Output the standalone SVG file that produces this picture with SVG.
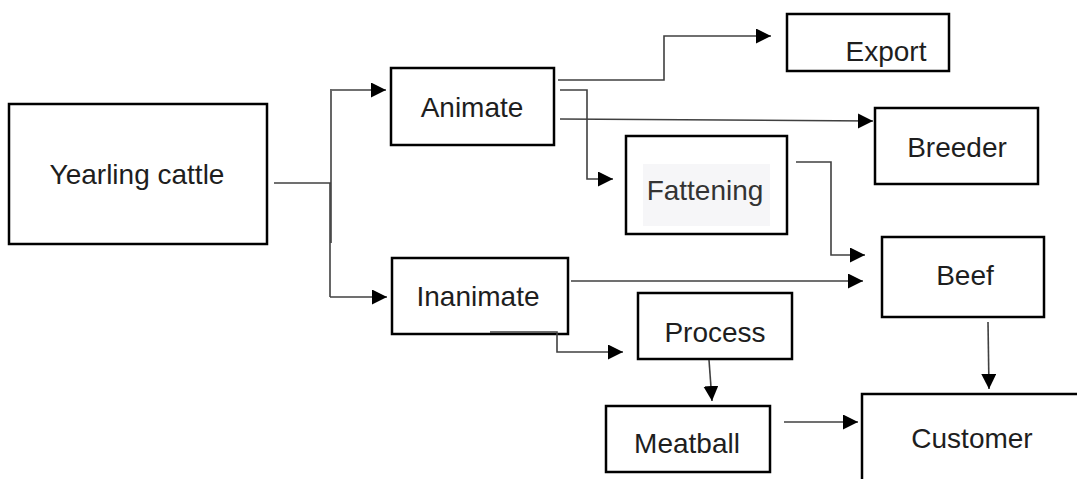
<svg xmlns="http://www.w3.org/2000/svg" width="1077" height="479" viewBox="0 0 1077 479">
<style>
.box{fill:#fff;stroke:#000;stroke-width:2.5}
.lbl{font-family:"Liberation Sans",Arial,sans-serif;font-size:28px;fill:#1e1e1e;text-anchor:middle}
.ln{fill:none;stroke:#404040;stroke-width:1.6}
</style>
<defs>
<marker id="ah" markerUnits="userSpaceOnUse" markerWidth="16" markerHeight="16" refX="15" refY="7.5" orient="auto">
<path d="M0,0 L15,7.5 L0,15 Z" fill="#000"/>
</marker>
</defs>
<rect width="1077" height="479" fill="#fff"/>
<g id="yearling">
<rect class="box" x="9" y="104" width="258" height="140"/>
<text class="lbl" x="137" y="184">Yearling cattle</text>
</g>
<g id="animate">
<rect class="box" x="391" y="68" width="163" height="77"/>
<text class="lbl" x="472" y="117">Animate</text>
</g>
<g id="export">
<rect class="box" x="787" y="14" width="162" height="57"/>
<text class="lbl" x="886" y="61">Export</text>
</g>
<g id="breeder">
<rect class="box" x="875" y="108" width="163" height="76"/>
<text class="lbl" x="957" y="157">Breeder</text>
</g>
<g id="fattening">
<rect class="box" x="626" y="136" width="161" height="98"/>
<rect x="643" y="164" width="127" height="62" fill="#f6f6f8"/>
<text class="lbl" x="705" y="200" style="fill:#333">Fattening</text>
</g>
<g id="beef">
<rect class="box" x="882" y="237" width="162" height="80"/>
<text class="lbl" x="965" y="285">Beef</text>
</g>
<g id="inanimate">
<rect class="box" x="392" y="258" width="176" height="76"/>
<text class="lbl" x="478" y="306">Inanimate</text>
</g>
<g id="process">
<rect class="box" x="638" y="293" width="154" height="66"/>
<text class="lbl" x="715" y="342">Process</text>
</g>
<g id="meatball">
<rect class="box" x="606" y="406" width="164" height="66"/>
<text class="lbl" x="687" y="453">Meatball</text>
</g>
<g id="customer">
<rect class="box" x="862" y="394" width="240" height="110"/>
<text class="lbl" x="972" y="448">Customer</text>
</g>
<g id="connectors">
<path class="ln" d="M274,183 H331"/>
<path class="ln" d="M331,89 V243"/>
<path class="ln" d="M330,183 V297"/>
<path class="ln" d="M332,90 H386" marker-end="url(#ah)"/>
<path class="ln" d="M330,297 H387" marker-end="url(#ah)"/>
<path class="ln" d="M558,80 H664 V36 H771" marker-end="url(#ah)"/>
<path class="ln" d="M560,90 H587 V179 H613" marker-end="url(#ah)"/>
<path class="ln" d="M560,119 L873,121" marker-end="url(#ah)"/>
<path class="ln" d="M796,162 H831 V255 H865" marker-end="url(#ah)"/>
<path class="ln" d="M571,281 H863" marker-end="url(#ah)"/>
<path class="ln" d="M490,332 H557 V352 H623" marker-end="url(#ah)"/>
<path class="ln" d="M709,360 L712,401" marker-end="url(#ah)"/>
<path class="ln" d="M784,422 H858" marker-end="url(#ah)"/>
<path class="ln" d="M988,322 L989,389" marker-end="url(#ah)"/>
</g>
</svg>
